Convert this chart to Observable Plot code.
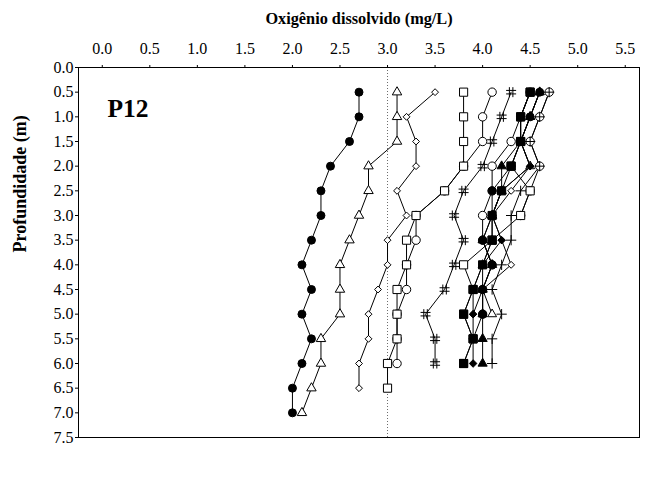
<!DOCTYPE html>
<html>
<head>
<meta charset="utf-8">
<script src="https://cdn.jsdelivr.net/npm/d3@7"></script>
<script src="https://cdn.jsdelivr.net/npm/@observablehq/plot@0.6"></script>
<style>
  html, body { margin: 0; padding: 0; background: white; }
  #chart svg, #chart svg text { font-family: "Liberation Serif", "Times New Roman", serif !important; }
</style>
</head>
<body>
<div id="chart"></div>
<script>
// ---- data ----
const depths = [0.5, 1.0, 1.5, 2.0, 2.5, 3.0, 3.5, 4.0, 4.5, 5.0, 5.5, 6.0, 6.5, 7.0];
const xTicks = [0.0, 0.5, 1.0, 1.5, 2.0, 2.5, 3.0, 3.5, 4.0, 4.5, 5.0, 5.5];
const yTicks = [0.0, 0.5, 1.0, 1.5, 2.0, 2.5, 3.0, 3.5, 4.0, 4.5, 5.0, 5.5, 6.0, 6.5, 7.0, 7.5];
const xTitle = "Oxigênio dissolvido (mg/L)";
const yTitle = "Profundidade (m)";
const panelLabel = "P12";
const refLine = [3.0];

const filledCircleA = [2.7, 2.7, 2.6, 2.4, 2.3, 2.3, 2.2, 2.1, 2.2, 2.1, 2.2, 2.1, 2.0, 2.0];
const openTriangleA = [3.1, 3.1, 3.1, 2.8, 2.8, 2.7, 2.6, 2.5, 2.5, 2.5, 2.3, 2.3, 2.2, 2.1];
const openDiamondA  = [3.5, 3.2, 3.3, 3.3, 3.1, 3.2, 3.0, 3.0, 2.9, 2.8, 2.8, 2.7, 2.7];
const openCircleA   = [4.1, 4.0, 4.0, 3.8, 3.6, 3.3, 3.3, 3.2, 3.2, 3.1, 3.1, 3.1];
const openSquareA   = [3.8, 3.8, 3.8, 3.8, 3.6, 3.3, 3.2, 3.2, 3.1, 3.1, 3.1, 3.0, 3.0];
const hashSeries    = [4.3, 4.2, 4.1, 4.0, 3.8, 3.7, 3.8, 3.7, 3.6, 3.4, 3.5, 3.5];
const openCircleB   = [4.7, 4.6, 4.5, 4.6, 4.5, 4.4];
const openCircleC   = [4.5, 4.4, 4.3, 4.1, 4.1, 4.0, 4.0, 4.1, 4.0, 4.0];
const openSquareB   = [4.5, 4.4, 4.4, 4.3, 4.5, 4.4, 4.1, 3.8, 3.9, 3.8, 3.9, 3.8];
const openDiamondB  = [4.6, 4.5, 4.4, 4.5, 4.3, 4.1, 4.2, 4.3, 4.0, 3.9];
const openTriangleB = [4.6, 4.5, 4.4, 4.5, 4.2, 4.1, 4.1, 4.0, 4.0, 4.1];
const filledTriangle= [4.6, 4.5, 4.4, 4.2, 4.2, 4.1, 4.0, 4.1, 4.0, 4.0, 4.0, 4.0];
const filledDiamond = [4.5, 4.4, 4.4, 4.5, 4.2, 4.1, 4.2, 4.0, 3.9, 3.9, 3.9, 3.9];
const filledCircleB = [4.6, 4.5, 4.4, 4.3, 4.1, 4.1, 4.0, 4.1, 4.0, 4.0, 3.9];
const filledSquare  = [4.5, 4.4, 4.4, 4.3, 4.2, 4.1, 4.1, 4.0, 3.9, 3.8, 3.9, 3.8];
const plusSeries    = [4.7, 4.6, 4.5, 4.6, 4.4, 4.3, 4.3, 4.2, 4.1, 4.2, 4.1, 4.1];

// ---- symbols / styles ----
const hashSymbol = {
  draw(ctx, size) {
    const r = Math.sqrt(size / Math.PI);
    const a = r * 0.35;
    ctx.moveTo(-a, -r); ctx.lineTo(-a, r);
    ctx.moveTo(a, -r); ctx.lineTo(a, r);
    ctx.moveTo(-r, -a); ctx.lineTo(r, -a);
    ctx.moveTo(-r, a); ctx.lineTo(r, a);
  }
};

const seriesList = [
  {name: "filledCircleA", values: filledCircleA, symbol: "circle", fill: "black", r: 4},
  {name: "openTriangleA", values: openTriangleA, symbol: "triangle", fill: "white", r: 3.5},
  {name: "openDiamondA", values: openDiamondA, symbol: "diamond2", fill: "white", r: 3.1},
  {name: "openCircleA", values: openCircleA, symbol: "circle", fill: "white", r: 4.2},
  {name: "openSquareA", values: openSquareA, symbol: "square", fill: "white", r: 4.6},
  {name: "hashSeries", values: hashSeries, symbol: hashSymbol, fill: "none", r: 5},
  {name: "openCircleB", values: openCircleB, symbol: "circle", fill: "white", r: 4.2},
  {name: "openCircleC", values: openCircleC, symbol: "circle", fill: "white", r: 4.2},
  {name: "openSquareB", values: openSquareB, symbol: "square", fill: "white", r: 4.6},
  {name: "openDiamondB", values: openDiamondB, symbol: "diamond2", fill: "white", r: 3.1},
  {name: "openTriangleB", values: openTriangleB, symbol: "triangle", fill: "white", r: 3.3},
  {name: "filledTriangle", values: filledTriangle, symbol: "triangle", fill: "black", r: 3.4},
  {name: "filledDiamond", values: filledDiamond, symbol: "diamond2", fill: "black", r: 3.4},
  {name: "filledCircleB", values: filledCircleB, symbol: "circle", fill: "black", r: 4},
  {name: "filledSquare", values: filledSquare, symbol: "square", fill: "black", r: 4.6},
  {name: "plusSeries", values: plusSeries, symbol: "plus", fill: "none", r: 3.4}
];

const toRows = s => s.values.map((v, i) => ({series: s.name, od: v, depth: depths[i]}));
const allRows = seriesList.flatMap(toRows);

const fmt = d3.format(".1f");

const marks = [
  Plot.ruleX(refLine, {stroke: "#444", strokeWidth: 0.8, strokeDasharray: "1,2"}),
  Plot.line(allRows, {x: "od", y: "depth", z: "series", stroke: "black", strokeWidth: 1}),
  ...seriesList.map(s => Plot.dot(toRows(s), {
    x: "od", y: "depth", symbol: s.symbol, r: s.r,
    fill: s.fill, stroke: "black", strokeWidth: 1
  })),
  Plot.frame({stroke: "black", strokeWidth: 1}),
  Plot.text([xTitle], {frameAnchor: "top", dy: -49, fontWeight: "bold", fontSize: 16.3, lineAnchor: "middle"}),
  Plot.text([yTitle], {frameAnchor: "left", dx: -58, rotate: -90, fontWeight: "bold", fontSize: 18, lineAnchor: "middle"}),
  Plot.text([panelLabel], {frameAnchor: "top-left", dx: 29, dy: 41, fontWeight: "bold", fontSize: 25.5, textAnchor: "start", lineAnchor: "middle"})
];

const chart = Plot.plot({
  width: 646,
  height: 478,
  marginLeft: 78,
  marginRight: 7,
  marginTop: 67,
  marginBottom: 41,
  style: {fontFamily: "'Liberation Serif', 'Times New Roman', serif", fontSize: "16px", background: "white", color: "black"},
  x: {domain: [-0.25, 5.65], axis: "top", ticks: xTicks, tickFormat: fmt, tickSize: 3, tickPadding: 11, label: null},
  y: {domain: [0, 7.5], reverse: true, ticks: yTicks, tickFormat: fmt, tickSize: 3, tickPadding: 2, label: null},
  marks
});
document.getElementById("chart").appendChild(chart);
</script>
</body>
</html>
